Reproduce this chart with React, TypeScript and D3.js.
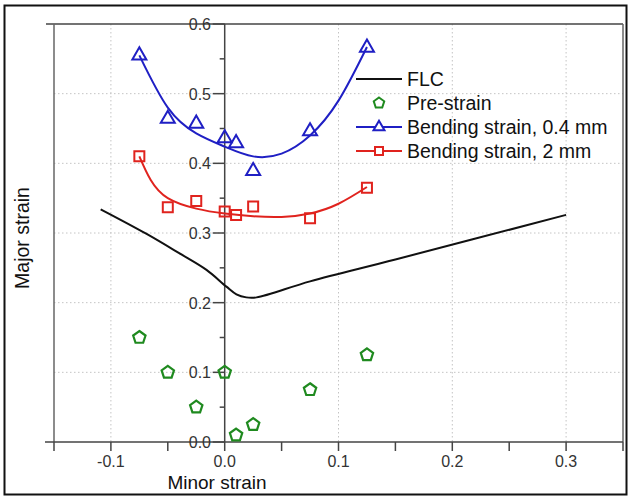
import React from "react";
import * as d3 from "d3";

// ---- data ----
const flcX = [-0.109, -0.069, -0.04, -0.016, 0.0015, 0.0103, 0.019, 0.028, 0.075, 0.15, 0.3];
const flcY = [0.334, 0.299, 0.271, 0.247, 0.223, 0.212, 0.2076, 0.2076, 0.2306, 0.262, 0.326];

const preX = [-0.075, -0.05, -0.025, 0.0, 0.01, 0.025, 0.075, 0.125];
const preY = [0.15, 0.1, 0.05, 0.1, 0.01, 0.025, 0.075, 0.125];

const b04X = [-0.075, -0.05, -0.025, 0.0, 0.01, 0.025, 0.075, 0.125];
const b04Y = [0.555, 0.464, 0.457, 0.436, 0.429, 0.389, 0.446, 0.566];
const b04FitX = [-0.075, -0.05, -0.025, 0.0, 0.025, 0.05, 0.075, 0.1, 0.125];
const b04FitY = [0.555, 0.48, 0.443, 0.424, 0.41, 0.414, 0.44, 0.49, 0.567];

const b2X = [-0.075, -0.05, -0.025, 0.0, 0.01, 0.025, 0.075, 0.125];
const b2Y = [0.41, 0.337, 0.346, 0.331, 0.326, 0.338, 0.321, 0.365];
const b2FitX = [-0.075, -0.065, -0.05, -0.025, 0.0, 0.025, 0.05, 0.075, 0.1, 0.125];
const b2FitY = [0.41, 0.376, 0.35, 0.335, 0.328, 0.324, 0.323, 0.328, 0.342, 0.366];

const xTickVals = [-0.1, 0.0, 0.1, 0.2, 0.3];
const xTickLabels = ["-0.1", "0.0", "0.1", "0.2", "0.3"];
const yTickVals = [0, 0.1, 0.2, 0.3, 0.4, 0.5, 0.6];
const yTickLabels = ["0.0", "0.1", "0.2", "0.3", "0.4", "0.5", "0.6"];
const legendLabels = ["FLC", "Pre-strain", "Bending strain, 0.4 mm", "Bending strain, 2 mm"];

const BLUE = "#1f1fc4";
const RED = "#e0231e";
const GREEN = "#1f8a1f";

function triPath(cx: number, cy: number, w: number) {
  const h = w * 0.866;
  return `M${cx},${cy - (2 * h) / 3}L${cx + w / 2},${cy + h / 3}L${cx - w / 2},${cy + h / 3}Z`;
}
function sqPath(cx: number, cy: number, s: number) {
  return `M${cx - s / 2},${cy - s / 2}h${s}v${s}h${-s}Z`;
}
function pentPath(cx: number, cy: number, r: number) {
  const pts = d3.range(5).map((i) => {
    const a = -Math.PI / 2 + (i * 2 * Math.PI) / 5;
    return [cx + r * Math.cos(a), cy + r * Math.sin(a)];
  });
  return "M" + pts.map((p) => p.join(",")).join("L") + "Z";
}

export default function App() {
  const x = d3.scaleLinear().domain([-0.15, 0.35]).range([54, 623]);
  const y = d3.scaleLinear().domain([0, 0.6]).range([442, 24]);
  const mk = (xs: number[], ys: number[], curve: any) =>
    d3
      .line<number>()
      .x((_, i) => x(xs[i]))
      .y((_, i) => y(ys[i]))
      .curve(curve)(xs.map((_, i) => i)) as string;

  const xMinor = x.ticks(10);
  const yMinor = d3.range(0, 0.6001, 0.05);
  const gridX = [-0.1, 0.1, 0.2, 0.3];
  const gridY = [0.1, 0.2, 0.3, 0.4, 0.5];
  const x0 = x(0);

  const legX1 = 356;
  const legX2 = 402;
  const legMid = 379;
  const legTextX = 407;
  const legRows = [79, 103, 127, 151];

  return (
    <svg
      width={631}
      height={497}
      style={{ position: "absolute", left: 0, top: 0, background: "#fff" }}
      fontFamily="'Liberation Sans', Arial, sans-serif"
    >
      <rect x={0} y={0} width={631} height={497} fill="#fff" />
      <rect x={4.5} y={5.5} width={622} height={489} fill="none" stroke="#111" strokeWidth={2} />

      {/* grid */}
      {gridX.map((v) => (
        <line key={"gx" + v} x1={x(v)} x2={x(v)} y1={y(0.6)} y2={y(0)} stroke="#c4c4c4" strokeDasharray="1.5,2.5" />
      ))}
      {gridY.map((v) => (
        <line key={"gy" + v} x1={x(-0.15)} x2={x(0.35)} y1={y(v)} y2={y(v)} stroke="#c4c4c4" strokeDasharray="1.5,2.5" />
      ))}

      {/* frame */}
      <line x1={46} x2={x(0.35)} y1={y(0.6)} y2={y(0.6)} stroke="#444" strokeWidth={1.5} />
      <line x1={x(-0.15)} x2={x(-0.15)} y1={y(0.6)} y2={y(0)} stroke="#666" strokeWidth={1.5} />
      <line x1={x(0.35)} x2={x(0.35)} y1={y(0.6)} y2={y(0)} stroke="#666" strokeWidth={1.5} />
      <line x1={45} x2={x(0.35)} y1={y(0)} y2={y(0)} stroke="#444" strokeWidth={1.5} />
      <line x1={x0} x2={x0} y1={y(0.6)} y2={y(0)} stroke="#444" strokeWidth={1.5} />

      {/* x ticks */}
      {xMinor.map((v) => (
        <line key={"xt" + v} x1={x(v)} x2={x(v)} y1={y(0)} y2={y(0) + 9} stroke="#444" strokeWidth={1.5} />
      ))}
      {xTickVals.map((v, i) => (
        <text key={"xl" + v} x={x(v)} y={467} textAnchor="middle" fontSize={16} fill="#333">
          {xTickLabels[i]}
        </text>
      ))}

      {/* y ticks */}
      {yMinor.map((v, i) => (
        <line
          key={"yt" + i}
          x1={i % 2 === 0 ? x0 - 12 : x0 - 5}
          x2={x0}
          y1={y(v)}
          y2={y(v)}
          stroke="#444"
          strokeWidth={1.5}
        />
      ))}
      {yTickVals.map((v, i) => (
        <text key={"yl" + v} x={211} y={y(v) + 6} textAnchor="end" fontSize={16} fill="#333">
          {yTickLabels[i]}
        </text>
      ))}

      {/* axis titles */}
      <text x={217} y={489} textAnchor="middle" fontSize={19} fill="#111">
        Minor strain
      </text>
      <text transform={`translate(29,238) rotate(-90)`} textAnchor="middle" fontSize={19.5} fill="#111">
        Major strain
      </text>

      {/* FLC */}
      <path d={mk(flcX, flcY, d3.curveCatmullRom.alpha(0.5))} fill="none" stroke="#111" strokeWidth={2} />

      {/* fitted curves */}
      <path d={mk(b04FitX, b04FitY, d3.curveNatural)} fill="none" stroke={BLUE} strokeWidth={2} />
      <path d={mk(b2FitX, b2FitY, d3.curveNatural)} fill="none" stroke={RED} strokeWidth={2} />

      {/* markers */}
      {b04X.map((v, i) => (
        <path key={"b04" + i} d={triPath(x(v), y(b04Y[i]), 14)} fill="none" stroke={BLUE} strokeWidth={2} />
      ))}
      {b2X.map((v, i) => (
        <path key={"b2" + i} d={sqPath(x(v), y(b2Y[i]), 10)} fill="none" stroke={RED} strokeWidth={2} />
      ))}
      {preX.map((v, i) => (
        <path key={"pre" + i} d={pentPath(x(v), y(preY[i]), 6.5)} fill="none" stroke={GREEN} strokeWidth={2.2} />
      ))}

      {/* legend */}
      <line x1={legX1} x2={legX2} y1={legRows[0]} y2={legRows[0]} stroke="#111" strokeWidth={2} />
      <path d={pentPath(legMid, legRows[1], 5.5)} fill="none" stroke={GREEN} strokeWidth={2} />
      <line x1={legX1} x2={legX2} y1={legRows[2]} y2={legRows[2]} stroke={BLUE} strokeWidth={2} />
      <path d={triPath(legMid, legRows[2], 11)} fill="#fff" stroke={BLUE} strokeWidth={2} />
      <line x1={legX1} x2={legX2} y1={legRows[3]} y2={legRows[3]} stroke={RED} strokeWidth={2} />
      <path d={sqPath(legMid, legRows[3], 8)} fill="#fff" stroke={RED} strokeWidth={2} />
      {legendLabels.map((t, i) => (
        <text key={t} x={legTextX} y={legRows[i] + 7} fontSize={19.5} fill="#111">
          {t}
        </text>
      ))}
    </svg>
  );
}
